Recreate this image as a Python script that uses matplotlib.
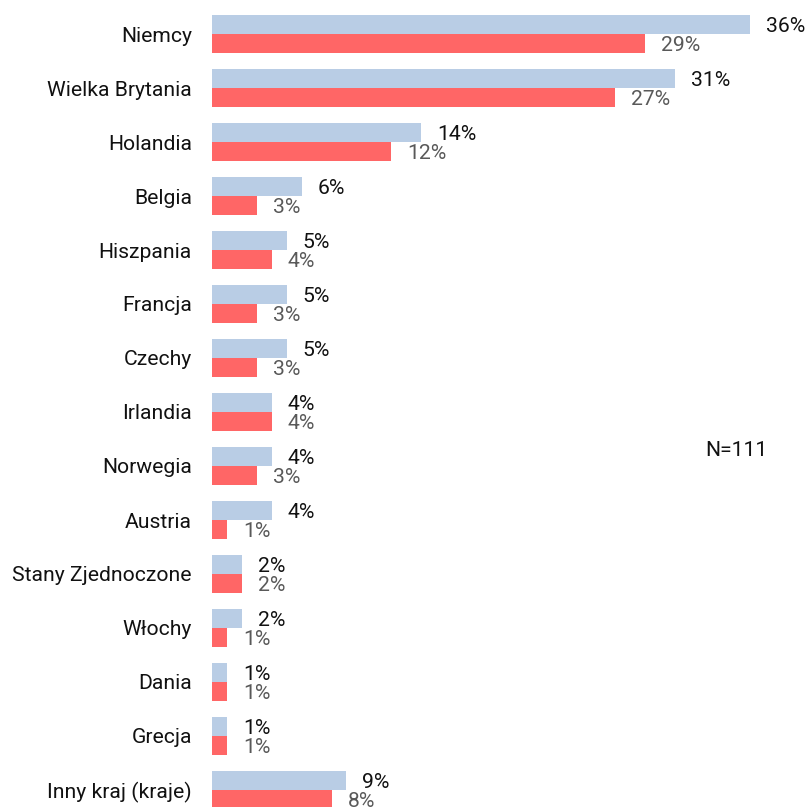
import numpy as np
import matplotlib
matplotlib.use("Agg")
import matplotlib.pyplot as plt

# === Data ===
countries = ["Niemcy", "Wielka Brytania", "Holandia", "Belgia", "Hiszpania",
             "Francja", "Czechy", "Irlandia", "Norwegia", "Austria",
             "Stany Zjednoczone", "Włochy", "Dania", "Grecja", "Inny kraj (kraje)"]
series_a = [36, 31, 14, 6, 5, 5, 5, 4, 4, 4, 2, 2, 1, 1, 9]
series_b = [29, 27, 12, 3, 4, 3, 3, 4, 3, 1, 2, 1, 1, 1, 8]
note = "N=111"

BLUE = "#b9cde5"
RED = "#ff6666"
FONT = "Roboto"
FS = 15.2

plt.rcParams["font.family"] = [FONT, "DejaVu Sans"]

fig = plt.figure(figsize=(8.08, 8.07), dpi=100)
ax = fig.add_axes([212 / 808, 0, 1 - 212 / 808, 1])

y = np.arange(len(countries))
h = 0.352
ax.barh(y - h / 2, series_a, height=h, color=BLUE)
ax.barh(y + h / 2, series_b, height=h, color=RED)

off = 1.07
dy = 0.03
for i, (a, b) in enumerate(zip(series_a, series_b)):
    ax.text(a + off, i - h / 2 + dy, f"{a}%", va="center", ha="left",
            fontsize=FS, color="#111111")
    ax.text(b + off, i + h / 2 + dy, f"{b}%", va="center", ha="left",
            fontsize=FS, color="#595959")

ax.text(33.0, 7.72, note, va="center", ha="left", fontsize=FS, color="#111111")

ax.set_xlim(0, 596 / 14.94)
ax.set_ylim((807 - 34) / 54, -34 / 54)
ax.set_yticks(y)
ax.set_yticklabels(countries, fontsize=FS, color="#111111")
ax.tick_params(axis="y", length=0, pad=14.4)
ax.set_xticks([])
for s in ax.spines.values():
    s.set_visible(False)

fig.savefig("out.png", dpi=100)
